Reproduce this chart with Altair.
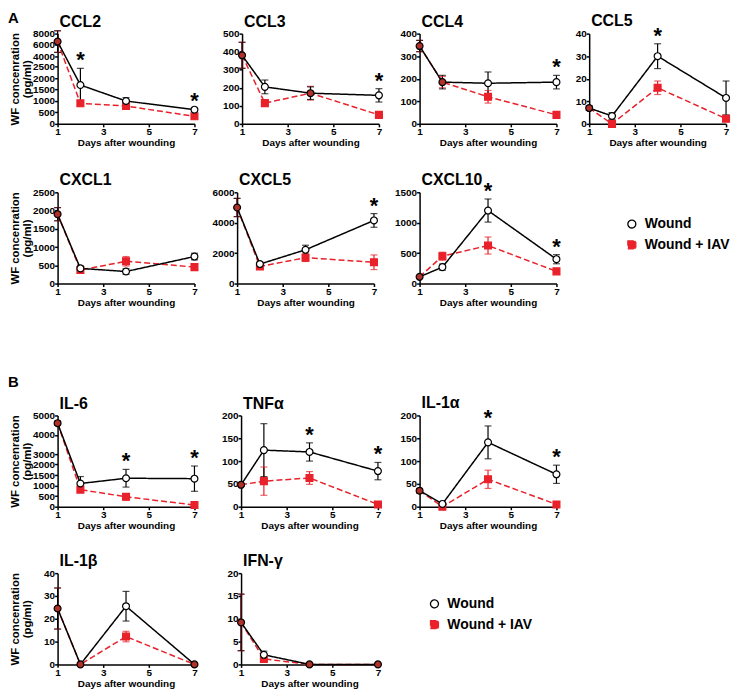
import altair as alt
import pandas as pd

FONT = "Liberation Sans"
BLACK = "#000000"
RED = "#e8212a"
OVER = "#b0302a"

days = [1, 2, 4, 7]
groups = ["Wound", "Wound + IAV"]
x_ticks = [1, 3, 5, 7]

ccl2_wound = [6600, 1700, 1000, 620]
ccl2_wound_err = [1900, 730, 150, 40]
ccl2_iav = [6600, 900, 780, 330]
ccl2_iav_err = [1900, 120, 80, 30]
ccl2_stars = [2, 7]
ccl2_ticks = [0, 500, 1000, 1500, 2000, 2500, 4000, 6000, 8000]
ccl2_break = [0, 2500, 4000, 8000]

ccl3_wound = [380, 205, 170, 158]
ccl3_wound_err = [72, 38, 35, 37]
ccl3_iav = [380, 115, 170, 50]
ccl3_iav_err = [72, 10, 38, 5]
ccl3_stars = [7]
ccl3_ticks = [0, 100, 200, 300, 400, 500]

ccl4_wound = [345, 185, 180, 185]
ccl4_wound_err = [25, 30, 50, 30]
ccl4_iav = [345, 185, 120, 40]
ccl4_iav_err = [25, 25, 28, 4]
ccl4_stars = [7]
ccl4_ticks = [0, 100, 200, 300, 400]

ccl5_wound = [7, 3.5, 30, 11.5]
ccl5_wound_err = [1, 1.5, 5.5, 7.5]
ccl5_iav = [7, 0, 16, 2.3]
ccl5_iav_err = [1, 0.3, 3, 0.5]
ccl5_stars = [4]
ccl5_ticks = [0, 10, 20, 30, 40]

cxcl1_wound = [1900, 415, 330, 740]
cxcl1_wound_err = [180, 70, 80, 90]
cxcl1_iav = [1900, 370, 610, 450]
cxcl1_iav_err = [180, 70, 130, 60]
cxcl1_stars = []
cxcl1_ticks = [0, 500, 1000, 1500, 2000, 2500]

cxcl5_wound = [5000, 1280, 2220, 4150]
cxcl5_wound_err = [600, 150, 300, 450]
cxcl5_iav = [5000, 1120, 1700, 1400]
cxcl5_iav_err = [600, 100, 250, 480]
cxcl5_stars = [7]
cxcl5_ticks = [0, 2000, 4000, 6000]

cxcl10_wound = [110, 270, 1200, 400]
cxcl10_wound_err = [20, 50, 190, 75]
cxcl10_iav = [110, 450, 625, 200]
cxcl10_iav_err = [20, 65, 140, 15]
cxcl10_stars = [4, 7]
cxcl10_ticks = [0, 500, 1000, 1500]

il6_wound = [4600, 1100, 1350, 1330]
il6_wound_err = [100, 330, 420, 600]
il6_iav = [4600, 810, 470, 80]
il6_iav_err = [100, 90, 150, 30]
il6_stars = [4, 7]
il6_ticks = [0, 500, 1000, 1500, 2000, 3000, 4000, 5000]
il6_break = [0, 2000, 3000, 5000]

tnfa_wound = [48, 124, 120, 78]
tnfa_wound_err = [3, 58, 20, 19]
tnfa_iav = [48, 56, 63, 5]
tnfa_iav_err = [3, 31, 14, 2]
tnfa_stars = [4, 7]
tnfa_ticks = [0, 50, 100, 150, 200]

il1a_wound = [35, 6, 141, 71]
il1a_wound_err = [5, 2, 36, 20]
il1a_iav = [35, 0, 60, 5]
il1a_iav_err = [5, 1, 20, 2]
il1a_stars = [4, 7]
il1a_ticks = [0, 50, 100, 150, 200]

il1b_wound = [24.5, 0, 25.5, 0]
il1b_wound_err = [9, 0, 6.5, 0]
il1b_iav = [24.5, 0, 12.2, 0]
il1b_iav_err = [9, 0, 2.3, 0]
il1b_stars = []
il1b_ticks = [0, 10, 20, 30, 40]

ifng_wound = [9.2, 2.1, 0, 0]
ifng_wound_err = [6.2, 0.8, 0, 0]
ifng_iav = [9.2, 1.2, 0, 0]
ifng_iav_err = [6.2, 0.5, 0, 0]
ifng_stars = []
ifng_ticks = [0, 5, 10, 15, 20]

Y_TITLE = ["WF concenration", "(pg/ml)"]


def make_df(w, we, iv, ie, stars):
    rows = []
    for g, m, e in ((groups[1], iv, ie), (groups[0], w, we)):
        for i, d in enumerate(days):
            rows.append(dict(day=d, group=g, mean=m[i], lo=m[i] - e[i], hi=m[i] + e[i],
                             ov=int(w[i] == iv[i]),
                             star=int(g == groups[0] and d in stars),
                             col=BLACK if g == groups[0] else RED))
    return pd.DataFrame(rows)


def panel(name, w, we, iv, ie, stars, yticks, leg, height=92, ext=25,
          first=False, brk=None, brk_frac=None, toff=-1, tag=None, tag_y=-25):
    df = make_df(w, we, iv, ie, stars)
    if brk is not None:
        yscale = alt.Scale(domain=brk, range=[height * (1 - f) for f in brk_frac],
                           nice=False, zero=False)
    else:
        yscale = alt.Scale(domain=[0, max(yticks)], nice=False, zero=False)
    yaxis = alt.Axis(values=yticks, format="d", labelOverlap=False, minExtent=ext,
                     title=Y_TITLE if first else None)
    xaxis = alt.Axis(values=x_ticks, format="d", title="Days after wounding",
                     labelFlush=False)
    X = alt.X("day:Q", scale=alt.Scale(domain=[1, 7], nice=False, zero=False), axis=xaxis)

    def Y(f):
        return alt.Y(f + ":Q", scale=yscale, axis=yaxis)

    base = alt.Chart(df)
    sscale = alt.Scale(domain=groups, range=[BLACK, RED])
    lines = base.mark_line(strokeWidth=1.5).encode(
        x=X, y=Y("mean"),
        stroke=alt.Stroke("group:N", scale=sscale, legend=leg),
        strokeDash=alt.StrokeDash("group:N", scale=alt.Scale(domain=groups, range=[[1, 0], [6, 3]]),
                                  legend=None),
    )
    bars = base.mark_rule(strokeWidth=1.2).encode(
        x=X, y=Y("lo"), y2="hi:Q", color=alt.Color("col:N", scale=None))
    cap_lo = base.mark_tick(orient="horizontal", size=7, thickness=1.2).encode(
        x=X, y=Y("lo"), color=alt.Color("col:N", scale=None))
    cap_hi = base.mark_tick(orient="horizontal", size=7, thickness=1.2).encode(
        x=X, y=Y("hi"), color=alt.Color("col:N", scale=None))
    pts = base.transform_filter("datum.ov == 0").mark_point(
        size=48, strokeWidth=1.2, opacity=1, fillOpacity=1).encode(
        x=X, y=Y("mean"),
        shape=alt.Shape("group:N", scale=alt.Scale(domain=groups, range=["circle", "square"]), legend=leg),
        fill=alt.Fill("group:N", scale=alt.Scale(domain=groups, range=["white", RED]), legend=leg),
        stroke=alt.Stroke("group:N", scale=sscale, legend=leg),
    )
    over = base.transform_filter("datum.ov == 1 && datum.group == 'Wound'").mark_point(
        shape="circle", size=48, filled=True, fill=OVER, stroke=BLACK, strokeWidth=1.2,
        opacity=1).encode(x=X, y=Y("mean"))
    st = base.transform_filter("datum.star == 1").mark_text(
        text="*", fontSize=22, fontWeight="bold", font=FONT, baseline="alphabetic",
        dy=-1, color=BLACK).encode(x=X, y=Y("hi"))
    layers = [lines, bars, cap_lo, cap_hi, pts, over, st]
    if tag is not None:
        layers.append(
            alt.Chart(pd.DataFrame({"tag": [tag]})).mark_text(
                align="left", baseline="top", fontSize=15, fontWeight="bold", font=FONT,
                color=BLACK).encode(text="tag:N", x=alt.value(-50), y=alt.value(tag_y)))
    return alt.layer(*layers).properties(
        width=138, height=height,
        title=alt.TitleParams(name, anchor="start", frame="group", fontSize=16,
                              fontWeight="bold", font=FONT, offset=toff, dx=2))


def legend(x, y):
    return alt.Legend(title=None, orient="none", legendX=x, legendY=y, labelFont=FONT,
                      labelFontSize=14, labelFontWeight="bold", labelColor="black",
                      symbolSize=64, symbolStrokeWidth=1.3, rowPadding=7, labelOffset=6,
                      padding=0)


legA = legend(572, 185)
legB = legend(373, 183)

rowA1 = alt.hconcat(
    panel("CCL2", ccl2_wound, ccl2_wound_err, ccl2_iav, ccl2_iav_err, ccl2_stars, ccl2_ticks, legA,
          height=91, first=True, brk=ccl2_break, brk_frac=[0, 0.633, 0.748, 1],
          tag="A", tag_y=-23, toff=-19),
    panel("CCL3", ccl3_wound, ccl3_wound_err, ccl3_iav, ccl3_iav_err, ccl3_stars, ccl3_ticks, legA,
          height=91, ext=41.5),
    panel("CCL4", ccl4_wound, ccl4_wound_err, ccl4_iav, ccl4_iav_err, ccl4_stars, ccl4_ticks, legA,
          height=91, ext=34.5),
    panel("CCL5", ccl5_wound, ccl5_wound_err, ccl5_iav, ccl5_iav_err, ccl5_stars, ccl5_ticks, legA,
          height=91, ext=26.5, toff=-4.4),
    spacing=0)
rowA2 = alt.hconcat(
    panel("CXCL1", cxcl1_wound, cxcl1_wound_err, cxcl1_iav, cxcl1_iav_err, cxcl1_stars, cxcl1_ticks, legA,
          first=True),
    panel("CXCL5", cxcl5_wound, cxcl5_wound_err, cxcl5_iav, cxcl5_iav_err, cxcl5_stars, cxcl5_ticks, legA,
          ext=36.5),
    panel("CXCL10", cxcl10_wound, cxcl10_wound_err, cxcl10_iav, cxcl10_iav_err, cxcl10_stars, cxcl10_ticks, legA,
          ext=39.5, toff=-7.8),
    spacing=0)
rowB1 = alt.hconcat(
    panel("IL-6", il6_wound, il6_wound_err, il6_iav, il6_iav_err, il6_stars, il6_ticks, legB,
          first=True, brk=il6_break, brk_frac=[0, 0.462, 0.576, 1],
          tag="B", tag_y=-41, toff=-37),
    panel("TNFα", tnfa_wound, tnfa_wound_err, tnfa_iav, tnfa_iav_err, tnfa_stars, tnfa_ticks, legB, ext=40.5),
    panel("IL-1α", il1a_wound, il1a_wound_err, il1a_iav, il1a_iav_err, il1a_stars, il1a_ticks, legB,
          ext=35.5, toff=-4.0),
    spacing=0)
rowB2 = alt.hconcat(
    panel("IL-1β", il1b_wound, il1b_wound_err, il1b_iav, il1b_iav_err, il1b_stars, il1b_ticks, legB,
          first=True),
    panel("IFN-γ", ifng_wound, ifng_wound_err, ifng_iav, ifng_iav_err, ifng_stars, ifng_ticks, legB, ext=40.5),
    spacing=0)

blockA = alt.vconcat(rowA1, rowA2, spacing=24)
blockB = alt.vconcat(rowB1, rowB2, spacing=23)

chart = alt.vconcat(blockA, blockB, spacing=68).resolve_scale(
    stroke="independent", fill="independent", shape="independent", strokeDash="independent"
).properties(padding=0).configure_axis(
    domainColor=BLACK, domainWidth=1.5, tickColor=BLACK, tickWidth=1.5, tickSize=3,
    labelFont=FONT, labelFontSize=10, labelFontWeight="bold", labelColor=BLACK, labelPadding=0,
    titleFont=FONT, titleFontWeight="bold", titleColor=BLACK, grid=False
).configure_axisX(titleFontSize=10, titlePadding=1).configure_axisY(
    titleFontSize=11.5, titlePadding=0, titleLineHeight=12.5
).configure_view(stroke=None).configure_title(color=BLACK)

chart.save("out.html", embed_options={"renderer": "svg", "actions": False})
